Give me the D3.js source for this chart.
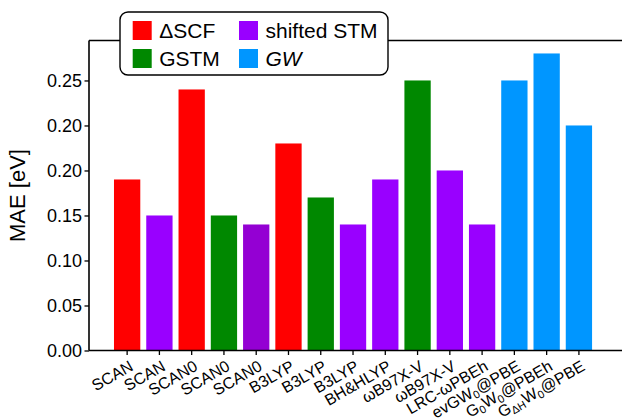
<!DOCTYPE html>
<html>
<head>
<meta charset="utf-8">
<script src="https://cdn.jsdelivr.net/npm/d3@7"></script>
<style>
  body { margin: 0; background: #fff; }
  text { font-family: "Liberation Sans", Arial, Helvetica, sans-serif; fill: #000; }
</style>
</head>
<body>
<div class="chart"></div>
<script>
var svgWidth = 622;
var svgHeight = 418;

var margin = { top: 40.5, left: 89, bottom: 67.5 };
var height = svgHeight - margin.top - margin.bottom;
var width = svgWidth - margin.left;

// data
var methods = ["SCAN", "SCAN", "SCAN0", "SCAN0", "SCAN0", "B3LYP", "B3LYP", "B3LYP",
  "BH&HLYP", "ωB97X-V", "ωB97X-V", "LRC-ωPBEh", "evGW_{0}@PBE", "G_{0}W_{0}@PBEh", "G_{ΔH}W_{0}@PBE"];
var maeValues = [0.19, 0.15, 0.29, 0.15, 0.14, 0.23, 0.17, 0.14, 0.19, 0.30, 0.20, 0.14, 0.30, 0.33, 0.25];
var methodType = ["dscf", "stm", "dscf", "gstm", "stm", "dscf", "gstm", "stm",
  "stm", "gstm", "stm", "stm", "gw", "gw", "gw"];
var yTickValues = [0, 0.05, 0.10, 0.15, 0.20, 0.25, 0.30];
var yTickLabels = ["0.00", "0.05", "0.10", "0.15", "0.20", "0.20", "0.25"];
var legendKeys = ["dscf", "gstm", "stm", "gw"];
var legendNames = { dscf: "ΔSCF", gstm: "GSTM", stm: "shifted STM", gw: "GW" };

var colors = { dscf: "#ff0000", gstm: "#008800", stm: "#9900ff", gw: "#0096ff" };
// the fifth bar is drawn in a darker violet
var colorOverride = { 4: "#9400d3" };

var svg = d3.select(".chart").append("svg")
  .attr("width", svgWidth)
  .attr("height", svgHeight);

var chartGroup = svg.append("g")
  .attr("transform", `translate(${margin.left}, ${margin.top})`);

var step = 32.27;
var xScale = d3.scaleBand()
  .domain(d3.range(methods.length))
  .range([22, 22 + step * methods.length])
  .paddingInner(0.185)
  .paddingOuter(0.0925);

var yScale = d3.scaleLinear()
  .domain([0, 0.3444])
  .range([height, 0]);

// bars
chartGroup.selectAll("rect.bar")
  .data(maeValues)
  .enter()
  .append("rect")
  .attr("class", "bar")
  .attr("x", (d, i) => xScale(i))
  .attr("width", xScale.bandwidth())
  .attr("y", d => yScale(d))
  .attr("height", d => height - yScale(d))
  .attr("fill", (d, i) => colorOverride[i] || colors[methodType[i]]);

// y axis
var leftAxis = d3.axisLeft(yScale)
  .tickValues(yTickValues)
  .tickFormat((d, i) => yTickLabels[i])
  .tickSizeOuter(0)
  .tickSize(4.5)
  .tickPadding(2.5);

var yAxis = chartGroup.append("g").call(leftAxis);
yAxis.select(".domain").remove();
yAxis.selectAll("line").attr("stroke", "#000").attr("stroke-width", 1.3);
yAxis.selectAll("text").style("font-size", "18px").attr("font-family", null);

// x axis ticks
var bottomAxis = d3.axisBottom(xScale).tickSize(4.5).tickSizeOuter(0).tickFormat("");
var xAxis = chartGroup.append("g")
  .attr("transform", `translate(0, ${height})`)
  .call(bottomAxis);
xAxis.select(".domain").remove();
xAxis.selectAll("line").attr("stroke", "#000").attr("stroke-width", 1.3);

// spines
chartGroup.append("line")
  .attr("x1", 0).attr("x2", width).attr("y1", height).attr("y2", height)
  .attr("stroke", "#000").attr("stroke-width", 1.6);
chartGroup.append("line")
  .attr("x1", 0).attr("x2", width).attr("y1", 0).attr("y2", 0)
  .attr("stroke", "#000").attr("stroke-width", 1.6);
chartGroup.append("line")
  .attr("x1", 0).attr("x2", 0).attr("y1", 0).attr("y2", height)
  .attr("stroke", "#000").attr("stroke-width", 1.6);

// rotated method labels, "_{..}" marks a subscript
function addLabel(textSel, label) {
  var parts = label.split(/_\{([^}]*)\}/);
  parts.forEach((p, k) => {
    if (p === "") return;
    var t = textSel.append("tspan").text(p);
    if (k % 2 === 1) {
      t.attr("baseline-shift", "-25%").style("font-size", "11px");
    }
  });
}

methods.forEach((m, i) => {
  var cx = xScale(i) + xScale.bandwidth() / 2;
  var t = chartGroup.append("text")
    .attr("transform", `translate(${cx + 1}, ${height + 8.5}) rotate(-30)`)
    .attr("text-anchor", "end")
    .attr("dy", "0.75em")
    .style("font-size", "16px");
  addLabel(t, m);
});

// y label
svg.append("text")
  .attr("transform", `translate(25, ${margin.top + height / 2}) rotate(-90)`)
  .attr("text-anchor", "middle")
  .style("font-size", "22px")
  .text("MAE [eV]");

// legend
var legend = svg.append("g").attr("transform", "translate(120, 12)");
legend.append("rect")
  .attr("width", 268).attr("height", 63)
  .attr("rx", 8).attr("ry", 8)
  .attr("fill", "#fff")
  .attr("stroke", "#000").attr("stroke-width", 1.4);

legendKeys.forEach((key, i) => {
  var col = Math.floor(i / 2);
  var row = i % 2;
  var g = legend.append("g")
    .attr("transform", `translate(${12.7 + col * 106.3}, ${9 + row * 28})`);
  g.append("rect").attr("width", 19).attr("height", 19).attr("fill", colors[key]);
  g.append("text")
    .attr("x", 26.5)
    .attr("y", 17)
    .style("font-size", "21px")
    .style("font-style", key === "gw" ? "italic" : null)
    .text(legendNames[key]);
});
</script>
</body>
</html>
